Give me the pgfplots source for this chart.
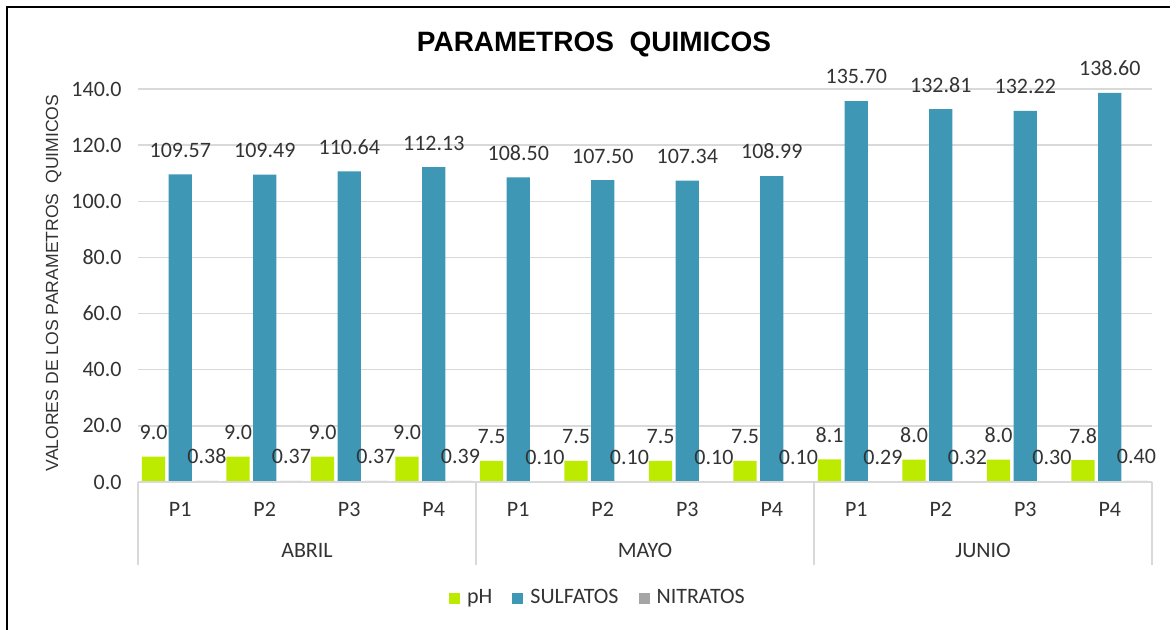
\documentclass[border=0pt]{standalone}
\usepackage{pgfplots}
\usepackage{pgfplotstable}
\pgfplotsset{compat=1.18}
\usepackage{fontspec}
\setmainfont{Carlito}
\newfontfamily\arialf{Liberation Sans}
\definecolor{phc}{HTML}{BDEB00}
\definecolor{sulc}{HTML}{3E97B5}
\definecolor{nitc}{HTML}{A5A5A5}
\definecolor{gridc}{HTML}{D9D9D9}
\definecolor{txt}{HTML}{333333}
\pgfplotstableread{
x ph sul nit
0 9.0 109.57 0.38
1 9.0 109.49 0.37
2 9.0 110.64 0.37
3 9.0 112.13 0.39
4 7.5 108.50 0.10
5 7.5 107.50 0.10
6 7.5 107.34 0.10
7 7.5 108.99 0.10
8 8.1 135.70 0.29
9 8.0 132.81 0.32
10 8.0 132.22 0.30
11 7.8 138.60 0.40
}\data
\begin{document}
\begin{tikzpicture}[x=1pt,y=1pt]
\useasboundingbox (0,0) rectangle (588,315);
\draw[black, line width=1pt] (3.5,0) -- (3.5,311.5) -- (585,311.5);
\node[anchor=base, font=\arialf\bfseries\fontsize{14}{16}\selectfont] at (297,289) {PARAMETROS\ \ QUIMICOS};
\node[anchor=base, rotate=90, font=\arialf\fontsize{8.8}{10}\selectfont, text=txt] at (29,173.5) {VALORES DE LOS PARAMETROS\ \ QUIMICOS};
\begin{axis}[
  at={(69pt,74pt)}, anchor=south west, scale only axis,
  width=507pt, height=196.5pt,
  xmin=-0.5, xmax=11.5, ymin=0, ymax=140,
  clip=false,
  /pgf/number format/assume math mode=true,
  axis line style={draw=none},
  tick style={draw=none},
  major tick length=0pt,
  ymajorgrids, grid style={gridc, line width=0.75pt},
  ytick={0,20,...,140},
  yticklabel style={/pgf/number format/.cd, fixed, fixed zerofill, precision=1, /tikz/.cd, anchor=east, inner sep=0pt, xshift=-8pt, font=\fontsize{11}{13}\selectfont, text=txt},
  xtick={0,...,11},
  xticklabels={P1,P2,P3,P4,P1,P2,P3,P4,P1,P2,P3,P4},
  xticklabel style={anchor=base, inner sep=0pt, yshift=-17.35pt, font=\fontsize{11}{13}\selectfont, text=txt},
  ybar, bar width=11.65pt,
  every node near coord/.append style={font=\fontsize{11}{13}\selectfont, text=txt, anchor=south, inner sep=0pt, yshift=8.25pt},
  legend columns=3,
  legend style={at={(0.4546,-0.2952)}, anchor=center, draw=none, fill=none, font=\fontsize{11}{13}\selectfont, text=txt,
    /tikz/every odd column/.append style={column sep=1.5pt},
    /tikz/every even column/.append style={column sep=8pt}},
  legend image code/.code={\fill[#1] (0pt,-2.75pt) rectangle (5.5pt,2.75pt);},
]
\addplot[fill=phc, draw=none, bar shift=-13.35pt,
  nodes near coords={\pgfmathprintnumber[fixed,fixed zerofill,precision=1]{\pgfplotspointmeta}}]
  table[x=x,y=ph]{\data};
\addplot[fill=sulc, draw=none, bar shift=0pt,
  nodes near coords={\pgfmathprintnumber[fixed,fixed zerofill,precision=2]{\pgfplotspointmeta}}]
  table[x=x,y=sul]{\data};
\addplot[fill=nitc, draw=none, bar shift=13.35pt,
  nodes near coords={\pgfmathprintnumber[fixed,fixed zerofill,precision=2]{\pgfplotspointmeta}}]
  table[x=x,y=nit]{\data};
\legend{pH,SULFATOS,NITRATOS}
\draw[gridc, line width=0.75pt] (axis cs:-0.5,0) -- (axis cs:11.5,0);
\draw[gridc, line width=0.75pt] (axis cs:-0.5,0) -- ++(0pt,-41.5pt);
\draw[gridc, line width=0.75pt] (axis cs:3.5,0) -- ++(0pt,-41.5pt);
\draw[gridc, line width=0.75pt] (axis cs:7.5,0) -- ++(0pt,-41.5pt);
\draw[gridc, line width=0.75pt] (axis cs:11.5,0) -- ++(0pt,-41.5pt);
\node[anchor=base, inner sep=0pt, font=\fontsize{11}{13}\selectfont, text=txt, yshift=-38pt] at (axis cs:1.5,0) {ABRIL};
\node[anchor=base, inner sep=0pt, font=\fontsize{11}{13}\selectfont, text=txt, yshift=-38pt] at (axis cs:5.5,0) {MAYO};
\node[anchor=base, inner sep=0pt, font=\fontsize{11}{13}\selectfont, text=txt, yshift=-38pt] at (axis cs:9.5,0) {JUNIO};
\end{axis}
\end{tikzpicture}
\end{document}
